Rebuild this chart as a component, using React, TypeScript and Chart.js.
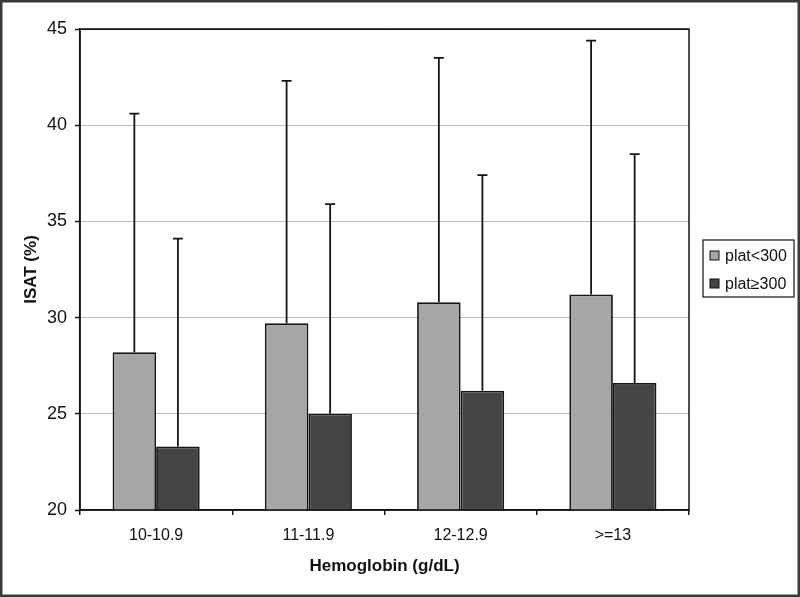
import React, { useEffect, useRef } from "react";
import { Chart, registerables } from "chart.js";
Chart.register(...registerables);

const categories = ["10-10.9", "11-11.9", "12-12.9", ">=13"];
const seriesNames = ["plat<300", "plat≥300"];
const platLow = [28.2, 29.7, 30.8, 31.2];
const platHigh = [23.3, 25.0, 26.2, 26.6];
const platLowUpper = [40.6, 42.3, 43.5, 44.4];
const platHighUpper = [34.1, 35.9, 37.4, 38.5];
const yMin = 20;
const yMax = 45;
const yStep = 5;

const colors = ["#a6a6a6", "#454545"];
const FONT = "'Liberation Sans', Arial, sans-serif";

export default function App() {
  const ref = useRef<HTMLCanvasElement | null>(null);
  useEffect(() => {
    const canvas = ref.current;
    if (!canvas) return;
    const uppers = [platLowUpper, platHighUpper];

    const decorPlugin = {
      id: "decor",
      afterDatasetsDraw(chart: any) {
        const ctx = chart.ctx;
        const y = chart.scales.y;
        ctx.save();
        ctx.strokeStyle = "#151515";
        ctx.lineWidth = 1.8;
        chart.data.datasets.forEach((_: any, di: number) => {
          const meta = chart.getDatasetMeta(di);
          meta.data.forEach((el: any, i: number) => {
            const top = el.y;
            const ey = y.getPixelForValue(uppers[di][i]);
            ctx.beginPath();
            ctx.moveTo(el.x, top);
            ctx.lineTo(el.x, ey);
            ctx.moveTo(el.x - 5, ey);
            ctx.lineTo(el.x + 5, ey);
            ctx.stroke();
          });
        });
        const a = chart.chartArea;
        ctx.strokeStyle = "#111";
        ctx.lineWidth = 1.5;
        ctx.strokeRect(a.left, a.top, a.right - a.left, a.bottom - a.top);
        ctx.restore();
      },
      afterDraw(chart: any) {
        const ctx = chart.ctx;
        ctx.save();
        // outer frame
        ctx.strokeStyle = "#3a3a3a";
        ctx.lineWidth = 2.5;
        ctx.strokeRect(1.25, 1.25, chart.width - 2.5, chart.height - 2.5);
        // legend
        const lx = 703, ly = 240, lw = 91, lh = 57;
        ctx.fillStyle = "#fff";
        ctx.fillRect(lx, ly, lw, lh);
        ctx.strokeStyle = "#111";
        ctx.lineWidth = 1.2;
        ctx.strokeRect(lx, ly, lw, lh);
        ctx.font = `16px ${FONT}`;
        ctx.textBaseline = "middle";
        ctx.textAlign = "left";
        seriesNames.forEach((name, i) => {
          const cy = 256 + i * 28;
          ctx.fillStyle = colors[i];
          ctx.fillRect(710, cy - 5, 9, 9);
          ctx.strokeStyle = "#111";
          ctx.lineWidth = 1;
          ctx.strokeRect(710, cy - 5, 9, 9);
          ctx.fillStyle = "#111";
          ctx.fillText(name, 725, cy + 1);
        });
        ctx.restore();
      },
    };

    const chart = new Chart(canvas, {
      type: "bar",
      data: {
        labels: categories,
        datasets: [
          {
            label: seriesNames[0],
            data: platLow,
            backgroundColor: colors[0],
            borderColor: "#151515",
            borderWidth: 1.8,
            categoryPercentage: 0.572,
            barPercentage: 1.0,
          },
          {
            label: seriesNames[1],
            data: platHigh,
            backgroundColor: colors[1],
            borderColor: "#151515",
            borderWidth: 1.8,
            categoryPercentage: 0.572,
            barPercentage: 1.0,
          },
        ],
      },
      options: {
        animation: false,
        responsive: false,
        maintainAspectRatio: false,
        layout: { padding: { left: 10, top: 29, right: 111, bottom: 10 } },
        plugins: {
          legend: { display: false },
          tooltip: { enabled: false },
        },
        scales: {
          x: {
            grid: {
              offset: true,
              drawOnChartArea: false,
              drawTicks: true,
              tickLength: 5,
              color: "#111",
              lineWidth: 1.5,
            },
            border: { display: true, color: "#111", width: 1.5 },
            ticks: {
              color: "#111",
              font: { family: FONT, size: 16 },
              padding: 11,
              maxRotation: 0,
            },
            title: {
              display: true,
              text: "Hemoglobin (g/dL)",
              color: "#111",
              font: { family: FONT, size: 17, weight: "bold" },
              padding: { top: 0, bottom: 10 },
            },
            afterFit(scale: any) {
              scale.height = 77;
            },
          },
          y: {
            min: yMin,
            max: yMax,
            ticks: {
              stepSize: yStep,
              color: "#111",
              font: { family: FONT, size: 18 },
              padding: 8,
            },
            grid: {
              color: (c: any) => (c.tick && c.tick.value === yMax ? "#111" : "#bdbdbd"),
              lineWidth: 1,
              tickLength: 5,
              tickColor: "#111",
              tickWidth: 1.5,
            },
            border: { display: true, color: "#111", width: 1.5 },
            title: {
              display: true,
              text: "ISAT (%)",
              color: "#111",
              font: { family: FONT, size: 17, weight: "bold" },
              padding: { top: 11, bottom: 0 },
            },
            afterFit(scale: any) {
              scale.width = 70;
            },
          },
        },
      },
      plugins: [decorPlugin],
    } as any);
    return () => chart.destroy();
  }, []);

  return (
    <div style={{ position: "absolute", left: 0, top: 0, width: 800, height: 597, background: "#fff" }}>
      <canvas ref={ref} width={800} height={597} style={{ display: "block", width: 800, height: 597 }} />
    </div>
  );
}
